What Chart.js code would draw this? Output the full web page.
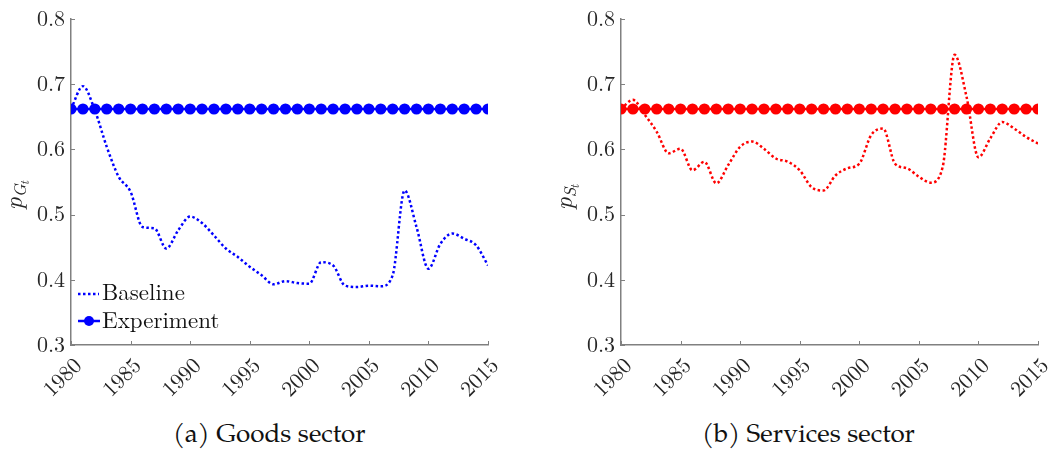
<!DOCTYPE html>
<html>
<head>
<meta charset="utf-8">
<script src="https://cdn.jsdelivr.net/npm/chart.js@4.4.1/dist/chart.umd.min.js"></script>
<style>
    body { margin: 0; background: #fff; width: 1051px; height: 453px; position: relative; overflow: hidden; }
    .panel { position: absolute; top: 0; width: 526px; height: 400px; }
    #goodsPanel { left: 0; }
    #servicesPanel { left: 525px; }
    .caption { position: absolute; top: 423px; font-family: "TeX Gyre Pagella", "Liberation Serif", serif; font-size: 26px; color: #111; white-space: nowrap; }
</style>
</head>
<body>
<div class="panel" id="goodsPanel"><canvas id="goodsChart" width="526" height="400"></canvas></div>
<div class="panel" id="servicesPanel"><canvas id="servicesChart" width="526" height="400"></canvas></div>
<div class="caption" style="left:173px">(a) Goods sector</div>
<div class="caption" style="left:702px">(b) Services sector</div>

<script>
const years = [1980, 1981, 1982, 1983, 1984, 1985, 1986, 1987, 1988, 1989,
    1990, 1991, 1992, 1993, 1994, 1995, 1996, 1997, 1998, 1999,
    2000, 2001, 2002, 2003, 2004, 2005, 2006, 2007, 2008, 2009,
    2010, 2011, 2012, 2013, 2014, 2015];

const goodsBaseline = [0.662, 0.697, 0.660, 0.604, 0.558, 0.535, 0.481, 0.479, 0.448, 0.476,
    0.497, 0.487, 0.468, 0.448, 0.435, 0.420, 0.407, 0.393, 0.398, 0.395,
    0.394, 0.427, 0.422, 0.391, 0.389, 0.391, 0.390, 0.407, 0.537, 0.481,
    0.417, 0.455, 0.471, 0.463, 0.453, 0.422];

const goodsExperiment = [0.662, 0.662, 0.662, 0.662, 0.662, 0.662, 0.662, 0.662, 0.662, 0.662,
    0.662, 0.662, 0.662, 0.662, 0.662, 0.662, 0.662, 0.662, 0.662, 0.662,
    0.662, 0.662, 0.662, 0.662, 0.662, 0.662, 0.662, 0.662, 0.662, 0.662,
    0.662, 0.662, 0.662, 0.662, 0.662, 0.662];

const servicesBaseline = [0.662, 0.676, 0.653, 0.627, 0.594, 0.601, 0.568, 0.581, 0.548, 0.576,
    0.604, 0.612, 0.601, 0.586, 0.581, 0.568, 0.542, 0.537, 0.560, 0.571,
    0.578, 0.622, 0.632, 0.578, 0.571, 0.558, 0.549, 0.573, 0.745, 0.681,
    0.588, 0.617, 0.642, 0.632, 0.619, 0.609];

const servicesExperiment = [0.662, 0.662, 0.662, 0.662, 0.662, 0.662, 0.662, 0.662, 0.662, 0.662,
    0.662, 0.662, 0.662, 0.662, 0.662, 0.662, 0.662, 0.662, 0.662, 0.662,
    0.662, 0.662, 0.662, 0.662, 0.662, 0.662, 0.662, 0.662, 0.662, 0.662,
    0.662, 0.662, 0.662, 0.662, 0.662, 0.662];

const xTicks = [1980, 1985, 1990, 1995, 2000, 2005, 2010, 2015];
const yTicks = [0.3, 0.4, 0.5, 0.6, 0.7, 0.8];
const legendLabels = ['Baseline', 'Experiment'];

const axisColor = '#808080';
const textColor = '#262626';
const serif = '"Latin Modern Roman", "Liberation Serif", serif';

function toPoints(values) {
    return years.map((yr, i) => ({ x: yr, y: values[i] }));
}

// inward tick marks, rotated x labels, y label and (left panel only) the legend
function decorPlugin(color, subLetter, showLegend) {
    return {
        id: 'decor',
        afterDraw(chart) {
            const ctx = chart.ctx;
            const area = chart.chartArea;
            const xs = chart.scales.x, ys = chart.scales.y;
            ctx.save();
            ctx.strokeStyle = axisColor;
            ctx.lineWidth = 1;
            xTicks.forEach(v => {
                const px = Math.round(xs.getPixelForValue(v)) + 0.5;
                ctx.beginPath();
                ctx.moveTo(px, area.bottom);
                ctx.lineTo(px, area.bottom - 4);
                ctx.stroke();
            });
            yTicks.forEach(v => {
                const py = Math.round(ys.getPixelForValue(v)) + 0.5;
                ctx.beginPath();
                ctx.moveTo(area.left, py);
                ctx.lineTo(area.left + 4, py);
                ctx.stroke();
            });

            // x tick labels, 45 degrees like matlab puts them
            ctx.fillStyle = textColor;
            ctx.font = '22px ' + serif;
            ctx.textAlign = 'right';
            ctx.textBaseline = 'middle';
            xTicks.forEach(v => {
                ctx.save();
                ctx.translate(xs.getPixelForValue(v) + 7, area.bottom + 17);
                ctx.rotate(-Math.PI / 4);
                ctx.fillText(String(v), 0, 0);
                ctx.restore();
            });

            // y axis label p_{X_t}
            ctx.translate(area.left - 49, 196);
            ctx.rotate(-Math.PI / 2);
            ctx.textBaseline = 'alphabetic';
            ctx.textAlign = 'left';
            ctx.font = 'italic 25px ' + serif;
            ctx.fillText('p', -14, 0);
            const pw = ctx.measureText('p').width;
            ctx.font = 'italic 17px ' + serif;
            ctx.fillText(subLetter, -14 + pw, 4);
            const gw = ctx.measureText(subLetter).width;
            ctx.font = 'italic 12px ' + serif;
            ctx.fillText('t', -15 + pw + gw, 7);
            ctx.restore();

            if (showLegend) {
                ctx.save();
                ctx.strokeStyle = color;
                ctx.fillStyle = color;
                ctx.lineWidth = 2.5;
                ctx.setLineDash([2.5, 2.5]);
                ctx.beginPath();
                ctx.moveTo(78, 294);
                ctx.lineTo(99, 294);
                ctx.stroke();
                ctx.setLineDash([]);
                ctx.beginPath();
                ctx.moveTo(78, 321);
                ctx.lineTo(100, 321);
                ctx.stroke();
                ctx.beginPath();
                ctx.arc(89, 321, 5, 0, Math.PI * 2);
                ctx.fill();
                ctx.fillStyle = '#111';
                ctx.font = '23px ' + serif;
                ctx.textBaseline = 'middle';
                ctx.fillText(legendLabels[0], 102, 293);
                ctx.fillText(legendLabels[1], 102, 321);
                ctx.restore();
            }
        }
    };
}

function makeChart(canvasId, baseline, experiment, color, subLetter, areaLeft, areaRight, showLegend) {
    const ctx = document.getElementById(canvasId).getContext('2d');
    return new Chart(ctx, {
        type: 'line',
        data: {
            datasets: [{
                label: legendLabels[0],
                data: toPoints(baseline),
                borderColor: color,
                borderWidth: 2.5,
                borderDash: [2.5, 2.5],
                pointRadius: 0,
                cubicInterpolationMode: 'monotone',
                fill: false,
                order: 2
            }, {
                label: legendLabels[1],
                data: toPoints(experiment),
                borderColor: color,
                backgroundColor: color,
                borderWidth: 2.5,
                pointRadius: 5.6,
                pointBorderWidth: 0,
                pointBackgroundColor: color,
                fill: false,
                order: 1
            }]
        },
        options: {
            responsive: false,
            animation: false,
            layout: { padding: { top: 19, left: 0, right: 526 - areaRight, bottom: 0 } },
            plugins: { legend: { display: false }, tooltip: { enabled: false } },
            scales: {
                x: {
                    type: 'linear',
                    min: 1980,
                    max: 2015,
                    afterBuildTicks: s => { s.ticks = xTicks.map(v => ({ value: v })); },
                    afterFit: s => { s.height = 55; s.paddingLeft = 0; s.paddingRight = 0; },
                    ticks: { display: false },
                    grid: { display: false, drawTicks: false },
                    border: { color: axisColor, width: 1.5 }
                },
                y: {
                    min: 0.3,
                    max: 0.8,
                    afterBuildTicks: s => { s.ticks = yTicks.map(v => ({ value: v })); },
                    afterFit: s => { s.width = areaLeft; s.paddingTop = 0; s.paddingBottom = 0; },
                    ticks: {
                        padding: 6,
                        color: textColor,
                        font: { family: serif, size: 22 },
                        callback: v => Number(v).toFixed(1)
                    },
                    grid: { display: false, drawTicks: false },
                    border: { color: axisColor, width: 1.5 }
                }
            }
        },
        plugins: [decorPlugin(color, subLetter, showLegend)]
    });
}

makeChart('goodsChart', goodsBaseline, goodsExperiment, '#0000ff', 'G', 71, 488, true);
makeChart('servicesChart', servicesBaseline, servicesExperiment, '#ff0000', 'S', 96, 513, false);
</script>
</body>
</html>
